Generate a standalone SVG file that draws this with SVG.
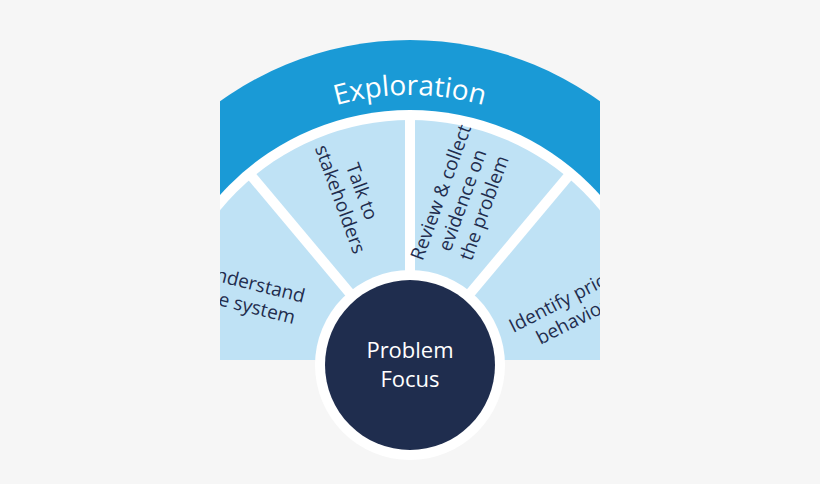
<svg xmlns="http://www.w3.org/2000/svg" width="820" height="484" viewBox="0 0 820 484">
<style>
.seg{font-family:"Open Sans","Liberation Sans",sans-serif;font-size:19px;fill:#1f2d4e;text-anchor:middle}
.w{font-family:"Open Sans","Liberation Sans",sans-serif;fill:#fff;text-anchor:middle}
.div{stroke:#fff;stroke-width:10}
</style>
<defs>
<clipPath id="c"><rect x="220" y="0" width="380" height="360"/></clipPath>
<path id="arc" d="M140,365 A270,270 0 0 1 680,365"/>
</defs>
<rect width="820" height="484" fill="#f6f6f6"/>
<g clip-path="url(#c)">
<g id="band">
<circle cx="410" cy="365" r="325" fill="#1a9ad6"/>
<circle cx="410" cy="365" r="255" fill="#fff"/>
<text class="w" font-size="28"><textPath href="#arc" startOffset="50%">Exploration</textPath></text>
</g>
<g id="segments">
<circle cx="410" cy="365" r="245" fill="#bfe2f5"/>
</g>
<g id="connectors">
<line class="div" x1="410" y1="365" x2="410" y2="115"/>
<line class="div" x1="410" y1="365" x2="249" y2="173"/>
<line class="div" x1="410" y1="365" x2="571" y2="173"/>
</g>
<g id="n-understand"><text class="seg" transform="translate(252,290) rotate(14)"><tspan x="0" y="0">Understand</tspan><tspan x="0" y="23">the system</tspan></text></g>
<g id="n-talk"><text class="seg" transform="translate(352,195) rotate(70)"><tspan x="0" y="-4">Talk to</tspan><tspan x="0" y="19">stakeholders</tspan></text></g>
<g id="n-review"><text class="seg" transform="translate(462,200) rotate(-70)"><tspan x="0" y="-16">Review &amp; collect</tspan><tspan x="0" y="7">evidence on</tspan><tspan x="0" y="30">the problem</tspan></text></g>
<g id="n-identify"><text class="seg" transform="translate(574,302) rotate(-27)"><tspan x="0" y="0">Identify priority</tspan><tspan x="0" y="23">behaviours</tspan></text></g>
</g>
<g id="n-focus">
<circle cx="410" cy="365" r="95" fill="#fff"/>
<circle cx="410" cy="365" r="85" fill="#1f2d4e"/>
<text class="w" font-size="22"><tspan x="410" y="358">Problem</tspan><tspan x="410" y="387">Focus</tspan></text>
</g>
</svg>
